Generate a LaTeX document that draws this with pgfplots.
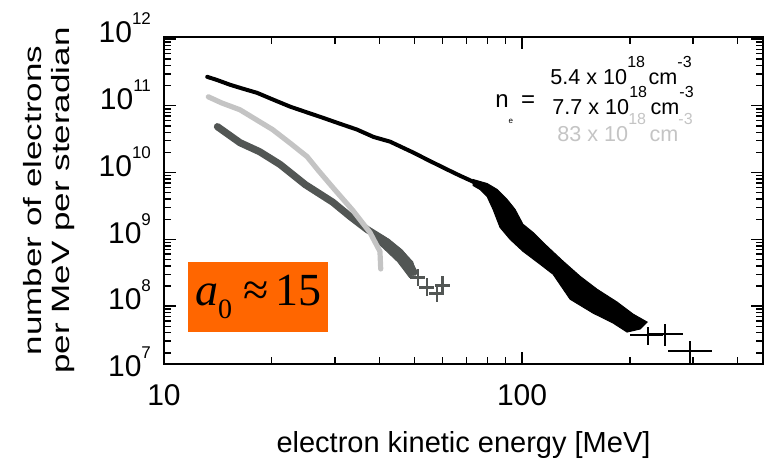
\documentclass[border=0pt]{standalone}
\usepackage{pgfplots}
\pgfplotsset{compat=1.18}
\usepackage{fontspec}
\setmainfont{Liberation Sans}
\newfontfamily\ylabfont[FakeStretch=1.4]{Liberation Sans}
\newfontfamily\timesf{Liberation Serif}
\definecolor{lgray}{RGB}{196,196,196}
\definecolor{dgray}{RGB}{82,86,84}
\definecolor{boxorange}{RGB}{255,102,0}
\newcommand{\tl}[1]{10\raisebox{9pt}{\fontsize{8.5}{8.5}\selectfont #1}}
\newcommand{\sups}[1]{\raisebox{8.5pt}{\fontsize{8}{8}\selectfont #1}}
\begin{document}
\begin{tikzpicture}
\path[use as bounding box] (-82pt,-51pt) rectangle (302pt,182pt);
\begin{axis}[
  xmode=log, ymode=log,
  scale only axis, width=299.5pt, height=163.5pt,
  xmin=10, xmax=471, ymin=1.36e7, ymax=1.07e12,
  xtick={10,100}, xticklabels={10,100},
  minor xtick={20,30,40,50,60,70,80,90,200,300,400},
  ytick={1e8,1e9,1e10,1e11,1e12},
  yticklabels={\tl{8},\tl{9},\tl{10},\tl{11},\tl{12}},
  minor ytick={2e7,3e7,4e7,5e7,6e7,7e7,8e7,9e7,2e8,3e8,4e8,5e8,6e8,7e8,8e8,9e8,2e9,3e9,4e9,5e9,6e9,7e9,8e9,9e9,2e10,3e10,4e10,5e10,6e10,7e10,8e10,9e10,2e11,3e11,4e11,5e11,6e11,7e11,8e11,9e11},
  tick align=inside,
  major tick length=6pt, minor tick length=3.5pt,
  axis line style={line width=1pt},
  every tick/.style={line width=0.7pt, black},
  tick label style={font=\fontsize{15}{15}\selectfont},
  xticklabel style={yshift=-6.5pt},
  yticklabel style={yshift=5.5pt, xshift=-3pt},
  xlabel={electron kinetic energy [MeV]},
  xlabel style={font=\fontsize{14.5}{14.5}\selectfont, at={(axis description cs:0.5,0)}, anchor=base, yshift=-44.5pt},
  ylabel={number of electrons\\per MeV per steradian},
  ylabel style={font=\ylabfont\fontsize{12.5}{14}\selectfont, align=center, at={(axis description cs:-0.192,0.5)}, anchor=center},
]
% 7.7e18 (dark gray)
\addplot[dgray, line width=3.6pt, line join=round, line cap=round] coordinates {
(14.1,4.86e10) (16.3,2.80e10) (18.5,2.05e10) (21.1,1.32e10) (24.8,6.6e9)
(29.6,3.6e9) (33.1,2.2e9) (36.9,1.41e9) (40.9,1.0e9) (45.6,6.4e8)
(48.6,4.2e8) (49.9,3.2e8)};
\addplot[dgray, fill=dgray, line width=0.5pt] coordinates {
(38.5,1.35e9) (42.5,1.0e9) (46.0,7.0e8) (49.5,4.6e8) (50.5,3.2e8)
(48.5,2.7e8) (45.0,4.6e8) (41.0,7.4e8) (38.5,1.0e9)} --cycle;
\addplot[draw=none, mark=none,
  error bars/.cd, x dir=both, x explicit, y dir=both, y explicit,
  error mark=none, error bar style={draw=dgray, solid, line width=1.4pt}] coordinates {
(51.2,2.7e8) += (2.4,0.95e8) -= (2.4,0.7e8)
(54.3,1.92e8) += (2.6,0.68e8) -= (2.6,0.5e8)
(57.9,1.56e8) += (2.8,0.55e8) -= (2.8,0.4e8)
(60.1,2.06e8) += (2.9,0.72e8) -= (2.9,0.53e8)};
% 83e18 (light gray)
\addplot[lgray, line width=2.6pt, line join=round, line cap=round] coordinates {
(13.3,1.36e11) (14.5,1.1e11) (16.3,8.7e10) (18.0,6.3e10) (20.1,4.4e10)
(22.5,2.76e10) (25.1,1.73e10) (27.0,1.07e10) (29.6,6.0e9) (33.7,2.7e9)
(37.6,1.27e9) (40.1,6.6e8) (40.3,3.6e8)};
% 5.4e18 (black)
\addplot[black, line width=2pt, line join=round, line cap=round] coordinates {
(13.2,2.71e11) (14.0,2.45e11) (15.3,2.06e11) (16.5,1.82e11) (18.2,1.56e11)
(20.0,1.26e11) (22.5,9.7e10) (25.0,8.0e10) (27.8,6.6e10) (31.0,5.38e10)
(34.6,4.4e10) (38.5,3.41e10) (42.8,2.9e10) (49.6,2.0e10) (55.0,1.51e10)
(61.8,1.11e10) (67.0,9.0e9) (73.0,7.3e9) (79.9,5.6e9) (85.1,3.95e9) (90.8,2.53e9)};
\addplot[black, fill=black, line width=0.5pt] coordinates {
(73.0,7.86e9) (79.9,6.85e9) (85.2,5.58e9) (90.8,3.96e9) (95.6,2.81e9)
(100.6,1.68e9) (107.3,1.27e9) (117.5,7.86e8) (130.2,4.70e8) (145.2,2.80e8)
(162.0,1.79e8) (184.3,1.15e8) (204.2,7.6e7) (223.5,5.77e7)
(213.6,4.54e7) (196.5,4.09e7) (179.6,5.58e7) (157.9,7.86e7) (136.2,1.27e8)
(122.1,3.0e8) (112.3,4.24e8) (100.6,6.62e8) (92.6,1.0e9) (86.8,1.51e9)
(83.0,2.81e9) (79.9,4.38e9) (76.3,5.58e9) (73.0,6.40e9)} --cycle;
\addplot[draw=none, mark=none,
  error bars/.cd, x dir=both, x explicit, y dir=both, y explicit,
  error mark=none, error bar style={draw=black, solid, line width=1pt}] coordinates {
(224.9,3.69e7) += (22.8,1.17e7) -= (24.6,1.07e7)
(250.8,3.82e7) += (30.9,1.56e7) -= (27.3,1.29e7)
(294.7,2.13e7) += (44.8,0.88e7) -= (38.9,0.77e7)};
\end{axis}
% 10^7 label (tick lies just below the frame)
\node[anchor=east, font=\fontsize{15}{15}\selectfont] at (-3pt,1pt) {\tl{7}};
% density legend text
\node[anchor=base west, inner sep=0, font=\fontsize{10.8}{10.8}\selectfont] at (193pt,139.5pt) {5.4 x 10\sups{18}\,cm\sups{-3}};
\node[anchor=base west, inner sep=0, font=\fontsize{10.8}{10.8}\selectfont] at (194pt,124.5pt) {7.7 x 10\sups{18}\,cm\sups{-3}};
\node[anchor=base west, inner sep=0, text=lgray, font=\fontsize{10.8}{10.8}\selectfont] at (196.5pt,111pt) {83 x 10\sups{18}\,cm\sups{-3}};
\node[anchor=base west, inner sep=0, font=\fontsize{12}{12}\selectfont] at (165.5pt,128pt) {n\raisebox{-8pt}{\fontsize{4}{4}\selectfont e}\hspace{4pt}=};
% a0 box
\node[fill=boxorange, minimum width=70pt, minimum height=35pt, inner sep=0, anchor=south west,
  font=\timesf\fontsize{23}{23}\selectfont] at (12pt,16pt)
  {\itshape a\upshape\raisebox{-0.28em}{\fontsize{14}{14}\selectfont 0}\hspace{0.25em}≈\hspace{0.15em}15};
\end{tikzpicture}
\end{document}
